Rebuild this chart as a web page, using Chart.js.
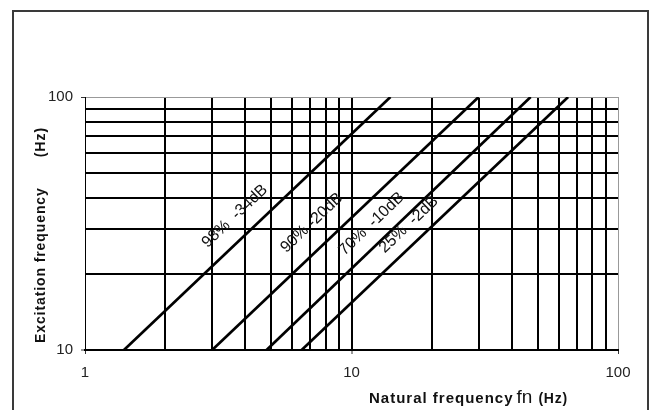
<!DOCTYPE html>
<html>
<head>
<meta charset="utf-8">
<script src="https://cdn.jsdelivr.net/npm/chart.js@4.4.1/dist/chart.umd.min.js"></script>
<style>
  body { margin: 0; background: #fff; }
  #wrap { position: relative; width: 653px; height: 410px; overflow: hidden; }
  #frame { position: absolute; left: 12px; top: 10px; width: 633px; height: 420px; border: 2px solid #3a3a3a; border-bottom: none; }
  canvas { position: absolute; left: 0; top: 0; }
</style>
</head>
<body>
<div id="wrap">
  <div id="frame"></div>
  <canvas id="chart" width="653" height="410"></canvas>
</div>
<script>
// grid / tick values
const xTicks = [1, 2, 3, 4, 5, 6, 7, 8, 9, 10, 20, 30, 40, 50, 60, 70, 80, 90, 100];
const yTicks = [10, 20, 30, 40, 50, 60, 70, 80, 90, 100];
const xLabels = [1, 10, 100];
const yLabels = [10, 100];

// isolation lines: natural frequency at excitation 10 Hz and 100 Hz
const excitation = [10, 100];
const fn98 = [1.4, 14];
const fn90 = [3.0, 30];
const fn70 = [4.8, 47];
const fn25 = [6.5, 65];
const lineNames = ['98%  -34dB', '90% -20dB', '70%  -10dB', '25%  -2dB'];

// where the line labels sit (fn, excitation)
const labelFn = [3.65, 7.1, 11.9, 16.4];
const labelExc = [33.8, 31.8, 31.5, 31.3];

const FONT = "'Liberation Sans', Arial, sans-serif";

function toPoints(xs) {
    return xs.map((x, i) => ({ x: x, y: excitation[i] }));
}

// draws text char by char with extra spacing, returns end x
function spacedText(ctx, text, x, y, spacing) {
    for (const ch of text) {
        ctx.fillText(ch, x, y);
        x += ctx.measureText(ch).width + spacing;
    }
    return x;
}

const lineLabels = {
    id: 'lineLabels',
    afterDatasetsDraw(chart) {
        const { ctx, scales } = chart;
        ctx.save();
        ctx.fillStyle = '#111';
        ctx.font = `16px ${FONT}`;
        ctx.textAlign = 'center';
        ctx.textBaseline = 'middle';
        chart.data.datasets.forEach((ds, i) => {
            const p0 = ds.data[0], p1 = ds.data[1];
            const ang = Math.atan2(
                scales.y.getPixelForValue(p1.y) - scales.y.getPixelForValue(p0.y),
                scales.x.getPixelForValue(p1.x) - scales.x.getPixelForValue(p0.x)
            );
            ctx.save();
            ctx.translate(scales.x.getPixelForValue(labelFn[i]), scales.y.getPixelForValue(labelExc[i]));
            ctx.rotate(ang);
            ctx.fillText(lineNames[i], 0, 0);
            ctx.restore();
        });
        ctx.restore();
    }
};

const axisTitles = {
    id: 'axisTitles',
    afterDraw(chart) {
        const { ctx, chartArea } = chart;
        ctx.save();
        ctx.fillStyle = '#111';
        ctx.textBaseline = 'alphabetic';
        ctx.textAlign = 'left';

        // x title
        let x = chartArea.left + 284;
        const base = chartArea.bottom + 53;
        ctx.font = `bold 15px ${FONT}`;
        x = spacedText(ctx, 'Natural frequency', x, base, 1) + 3;
        ctx.font = `19px ${FONT}`;
        x = spacedText(ctx, 'fn', x, base, 0) + 6;
        ctx.font = `bold 14px ${FONT}`;
        spacedText(ctx, '(Hz)', x, base, 0.8);

        // y title
        ctx.translate(chartArea.left - 40, chartArea.bottom - 7);
        ctx.rotate(-Math.PI / 2);
        ctx.font = `bold 14px ${FONT}`;
        const end = spacedText(ctx, 'Excitation frequency', 0, 0, 0.9);
        spacedText(ctx, '(Hz)', end + 30, 0, 1);
        ctx.restore();
    }
};

const lineStyle = { borderColor: '#000', borderWidth: 2.7, showLine: true, pointRadius: 0, fill: false };

new Chart(document.getElementById('chart'), {
    type: 'scatter',
    data: {
        datasets: [
            { label: lineNames[0], data: toPoints(fn98), ...lineStyle },
            { label: lineNames[1], data: toPoints(fn90), ...lineStyle },
            { label: lineNames[2], data: toPoints(fn70), ...lineStyle },
            { label: lineNames[3], data: toPoints(fn25), ...lineStyle },
        ],
    },
    options: {
        responsive: false,
        animation: false,
        layout: { padding: { left: 25, top: 97, right: 35, bottom: 0 } },
        plugins: {
            legend: { display: false },
            tooltip: { enabled: false },
        },
        scales: {
            x: {
                type: 'logarithmic',
                min: 1,
                max: 100,
                afterBuildTicks: (scale) => { scale.ticks = xTicks.map(v => ({ value: v })); },
                afterFit: (scale) => { scale.height = 60; },
                ticks: {
                    autoSkip: false,
                    maxRotation: 0,
                    padding: 10,
                    color: '#222',
                    font: { family: FONT, size: 15 },
                    callback: (v) => xLabels.includes(v) ? String(v) : '',
                },
                grid: {
                    color: (c) => c.tick && c.tick.value === 100 ? '#999' : '#000',
                    lineWidth: (c) => c.tick && (c.tick.value === 100 || c.tick.value === 1) ? 1 : 2,
                    tickLength: 4,
                    tickColor: (c) => c.tick && xLabels.includes(c.tick.value) ? '#333' : 'rgba(0,0,0,0)',
                    tickWidth: 1,
                },
                border: { color: '#000', width: 2 },
            },
            y: {
                type: 'logarithmic',
                min: 10,
                max: 100,
                afterBuildTicks: (scale) => { scale.ticks = yTicks.map(v => ({ value: v })); },
                afterFit: (scale) => { scale.width = 60; },
                ticks: {
                    autoSkip: false,
                    padding: 8,
                    color: '#222',
                    font: { family: FONT, size: 15 },
                    callback: (v) => yLabels.includes(v) ? String(v) : '',
                },
                grid: {
                    color: (c) => c.tick && c.tick.value === 100 ? '#999' : '#000',
                    lineWidth: (c) => c.tick && c.tick.value === 100 ? 1 : 2,
                    tickLength: 4,
                    tickColor: (c) => c.tick && yLabels.includes(c.tick.value) ? '#333' : 'rgba(0,0,0,0)',
                    tickWidth: 1,
                },
                border: { color: '#000', width: 1 },
            },
        },
    },
    plugins: [lineLabels, axisTitles],
});
</script>
</body>
</html>
